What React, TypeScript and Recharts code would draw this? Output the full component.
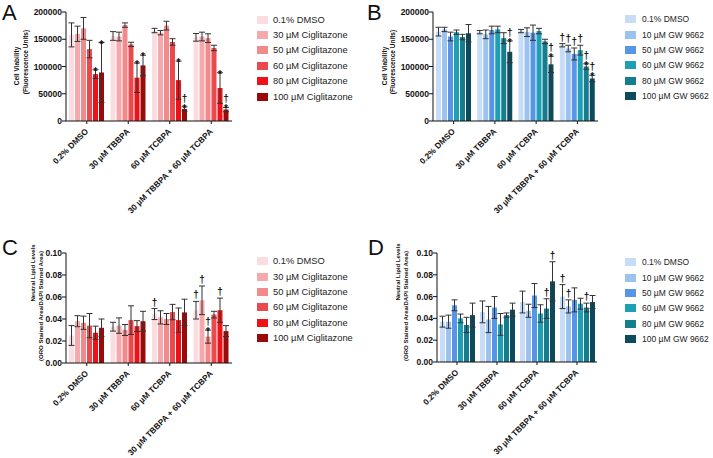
import React from 'react';
import { BarChart, Bar, XAxis, YAxis, ErrorBar, LabelList } from 'recharts';

const groups = ['0.2% DMSO', '30 µM TBBPA', '60 µM TCBPA', '30 µM TBBPA + 60 µM TCBPA'];

const cigNames = ['0.1% DMSO', '30 µM Ciglitazone', '50 µM Ciglitazone', '60 µM Ciglitazone', '80 µM Ciglitazone', '100 µM Ciglitazone'];
const gwNames = ['0.1% DMSO', '10 µM GW 9662', '50 µM GW 9662', '60 µM GW 9662', '80 µM GW 9662', '100 µM GW 9662'];
const reds = ['#fbdde0', '#f5a9ad', '#f28a8c', '#ea4a4d', '#ec1218', '#9b0a0a'];
const blues = ['#c7dcf6', '#9cc3f0', '#5796e6', '#1d9fb4', '#157d8d', '#0d4a5c'];

const viabTicks = [0, 50000, 100000, 150000, 200000];
const lipidTicks = [0, 0.02, 0.04, 0.06, 0.08, 0.1];

// one row per series, one value per group
const aMeans = [
  [158000, 156000, 166000, 153500],
  [160000, 155000, 162000, 155000],
  [170000, 176000, 175000, 152000],
  [132000, 140500, 145000, 134000],
  [86000, 79500, 75000, 60500],
  [89000, 102000, 22000, 21000],
];
const aErrs = [
  [22000, 8000, 4000, 7000],
  [14000, 8000, 4000, 8000],
  [20000, 4000, 8000, 8000],
  [16000, 4000, 6000, 5000],
  [8000, 27000, 35000, 28000],
  [55000, 19000, 4000, 4000],
];
const aMarks = [
  ['', '', '', ''],
  ['', '', '', ''],
  ['', '', '', ''],
  ['', '', '', ''],
  ['*', '*', '*', '*'],
  ['*', '*', '†*', '†*'],
];

const bMeans = [
  [164000, 163000, 165000, 139000],
  [168000, 159000, 163000, 133000],
  [155000, 167000, 162000, 123000],
  [163000, 168000, 165000, 130000],
  [154000, 152000, 146000, 100000],
  [161000, 127000, 104000, 78000],
];
const bErrs = [
  [8000, 3000, 3000, 3000],
  [4000, 8000, 8000, 6000],
  [8000, 7000, 14000, 11000],
  [4000, 6000, 5000, 9000],
  [5000, 10000, 4000, 5000],
  [16000, 20000, 15000, 6000],
];
const bMarks = [
  ['', '', '', '†'],
  ['', '', '', '†'],
  ['', '', '', '†'],
  ['', '', '', '†'],
  ['', '', '', '†*'],
  ['', '†*', '†*', '†*'],
];

const cMeans = [
  [0.025, 0.033, 0.0445, 0.048],
  [0.038, 0.034, 0.0415, 0.057],
  [0.0366, 0.03, 0.04, 0.024],
  [0.034, 0.039, 0.0463, 0.044],
  [0.0275, 0.0335, 0.039, 0.048],
  [0.032, 0.038, 0.046, 0.029],
];
const cErrs = [
  [0.009, 0.004, 0.005, 0.008],
  [0.005, 0.007, 0.006, 0.013],
  [0.006, 0.005, 0.005, 0.006],
  [0.011, 0.013, 0.007, 0.003],
  [0.006, 0.005, 0.011, 0.011],
  [0.008, 0.009, 0.012, 0.005],
];
const cMarks = [
  ['', '', '†', '†'],
  ['', '', '', '†'],
  ['', '', '', '†*'],
  ['', '', '', ''],
  ['', '', '', '†'],
  ['', '', '', ''],
];

const dMeans = [
  [0.037, 0.046, 0.055, 0.06],
  [0.037, 0.039, 0.047, 0.051],
  [0.052, 0.05, 0.061, 0.057],
  [0.04, 0.0345, 0.0445, 0.0535],
  [0.034, 0.043, 0.049, 0.05],
  [0.043, 0.048, 0.074, 0.055],
];
const dErrs = [
  [0.005, 0.01, 0.01, 0.011],
  [0.006, 0.012, 0.006, 0.006],
  [0.005, 0.01, 0.011, 0.011],
  [0.004, 0.01, 0.008, 0.005],
  [0.007, 0.002, 0.009, 0.004],
  [0.011, 0.006, 0.018, 0.006],
];
const dMarks = [
  ['', '', '', '†'],
  ['', '', '', '†'],
  ['', '', '', ''],
  ['', '', '', ''],
  ['', '', '†', '†'],
  ['', '', '†', ''],
];

const FONT = '"Liberation Sans", Arial, sans-serif';

function buildRows(means: number[][], errs: number[][], marks: string[][]) {
  return groups.map((g, gi) => {
    const row: any = { name: g };
    means.forEach((s, si) => {
      row['v' + si] = s[gi];
      row['e' + si] = errs[si][gi];
      row['m' + si] = marks[si][gi];
    });
    return row;
  });
}

const XTick = (props: any) => {
  const { x, y, payload } = props;
  return (
    <g transform={`translate(${x + 2},${y + 6}) rotate(-45)`}>
      <text x={0} y={0} textAnchor="end" fontSize={8.3} fontWeight="bold" fill="#111" fontFamily={FONT}>
        {payload.value}
      </text>
    </g>
  );
};

type PanelProps = {
  letter: string;
  letterX: number;
  letterY: number;
  left: number;
  top: number;
  yw: number;
  mt: number;
  mr: number;
  xh: number;
  plotH: number;
  yMax: number;
  ticks: number[];
  fmt: (v: number) => string;
  means: number[][];
  errs: number[][];
  marks: string[][];
  colors: string[];
  names: string[];
  labels: { text: string; x: number; y: number; size: number }[];
  legendX: number;
  legendY: number;
  swatchX: number;
  legendSize: number;
};

function Panel(p: PanelProps) {
  const rows = buildRows(p.means, p.errs, p.marks);
  const pxPer = p.plotH / p.yMax;
  const W = 357;
  const H = 229;

  const markFor = (si: number) => (lp: any) => {
    const { x, y, width, index, value } = lp;
    if (!value) return null;
    const errTop = y - rows[index]['e' + si] * pxPer;
    const cx = x + width / 2;
    const hasStar = String(value).includes('*');
    const hasDag = String(value).includes('†');
    return (
      <g>
        {hasStar && (
          <text x={cx} y={errTop + 5} textAnchor="middle" fontSize={10} fontWeight="bold" fill="#111" fontFamily={FONT}>*</text>
        )}
        {hasDag && (
          <text x={cx} y={hasStar ? errTop - 5 : errTop - 3} textAnchor="middle" fontSize={10} fontWeight="bold" fill="#111" fontFamily={FONT}>†</text>
        )}
      </g>
    );
  };

  return (
    <div style={{ position: 'absolute', left: p.left, top: p.top, width: W, height: H }}>
      <BarChart
        width={W}
        height={H}
        data={rows}
        margin={{ top: p.mt, right: p.mr, bottom: 0, left: 0 }}
        barCategoryGap={3}
        barGap={1}
        style={{ position: 'absolute', left: 0, top: 0 }}
      >
        <XAxis
          dataKey="name"
          interval={0}
          height={p.xh}
          tick={<XTick />}
          tickSize={3}
          axisLine={{ stroke: '#111' }}
          tickLine={{ stroke: '#111' }}
        />
        <YAxis
          width={p.yw}
          domain={[0, p.yMax]}
          ticks={p.ticks}
          tickFormatter={p.fmt}
          tickSize={4}
          tickMargin={0}
          axisLine={{ stroke: '#111' }}
          tickLine={{ stroke: '#111' }}
          tick={{ fontSize: 8.5, fontWeight: 'bold', fill: '#111', fontFamily: FONT }}
          interval={0}
        />
        {p.colors.map((c, si) => (
          <Bar key={si} dataKey={'v' + si} fill={c} isAnimationActive={false}>
            <ErrorBar dataKey={'e' + si} width={3} stroke="#333" strokeWidth={1} direction="y" />
            <LabelList dataKey={'m' + si} content={markFor(si)} />
          </Bar>
        ))}
      </BarChart>
      <svg width={W} height={H} style={{ position: 'absolute', left: 0, top: 0, pointerEvents: 'none' }}>
        <text x={p.letterX} y={p.letterY} fontSize={22} fill="#111" fontFamily={FONT}>{p.letter}</text>
        {p.labels.map((l, i) => (
          <text
            key={i}
            x={l.x}
            y={l.y}
            transform={`rotate(-90 ${l.x} ${l.y})`}
            textAnchor="middle"
            dominantBaseline="central"
            fontSize={l.size}
            fontWeight="bold"
            fill="#111"
            fontFamily={FONT}
          >
            {l.text}
          </text>
        ))}
      </svg>
      <div style={{ position: 'absolute', left: p.swatchX, top: p.legendY - 7, width: W - p.swatchX }}>
        {p.names.map((n, i) => (
          <div key={n} style={{ display: 'flex', alignItems: 'center', height: 15.4 }}>
            <div style={{ width: 11, height: 8, background: p.colors[i], flex: 'none' }} />
            <div style={{ marginLeft: p.legendX - p.swatchX - 11, whiteSpace: 'nowrap', fontSize: p.legendSize, lineHeight: '12px', fontFamily: FONT, color: '#222' }}>{n}</div>
          </div>
        ))}
      </div>
    </div>
  );
}

export default function App() {
  const fmtV = (v: number) => String(v);
  const fmtL = (v: number) => v.toFixed(2);
  return (
    <div style={{ position: 'absolute', left: 0, top: 0, width: 713, height: 458, background: '#fff', overflow: 'hidden' }}>
      <Panel
        letter="A" letterX={2} letterY={20} left={0} top={0} yw={66} mt={12} mr={125} xh={108} plotH={109}
        yMax={200000} ticks={viabTicks} fmt={fmtV}
        means={aMeans} errs={aErrs} marks={aMarks} colors={reds} names={cigNames}
        labels={[{ text: 'Cell Viability', x: 16, y: 66, size: 6.5 }, { text: '(Fluorescence Units)', x: 25, y: 62, size: 6.5 }]}
        swatchX={257} legendX={273} legendY={19} legendSize={9.3}
      />
      <Panel
        letter="B" letterX={11} letterY={20} left={356} top={0} yw={77} mt={12} mr={115} xh={108} plotH={109}
        yMax={200000} ticks={viabTicks} fmt={fmtV}
        means={bMeans} errs={bErrs} marks={bMarks} colors={blues} names={gwNames}
        labels={[{ text: 'Cell Viability', x: 28, y: 66, size: 6.5 }, { text: '(Fluorescence Units)', x: 36, y: 62, size: 6.5 }]}
        swatchX={269} legendX={286} legendY={18.5} legendSize={8.5}
      />
      <Panel
        letter="C" letterX={2} letterY={26} left={0} top={229} yw={66} mt={24} mr={125} xh={95} plotH={110}
        yMax={0.1} ticks={lipidTicks} fmt={fmtL}
        means={cMeans} errs={cErrs} marks={cMarks} colors={reds} names={cigNames}
        labels={[{ text: 'Neutral Lipid Levels', x: 33, y: 44, size: 6 }, { text: '(ORO Stained Area/DAPI Stained Area)', x: 41, y: 77, size: 6 }]}
        swatchX={257} legendX={273} legendY={31.5} legendSize={9.3}
      />
      <Panel
        letter="D" letterX={12} letterY={26} left={356} top={229} yw={81} mt={24} mr={116} xh={96} plotH={109}
        yMax={0.1} ticks={lipidTicks} fmt={fmtL}
        means={dMeans} errs={dErrs} marks={dMarks} colors={blues} names={gwNames}
        labels={[{ text: 'Neutral Lipid Levels', x: 42, y: 43, size: 6 }, { text: '(ORO Stained Area/DAPI Stained Area)', x: 50, y: 77, size: 6 }]}
        swatchX={269} legendX={286} legendY={32.5} legendSize={8.5}
      />
    </div>
  );
}
